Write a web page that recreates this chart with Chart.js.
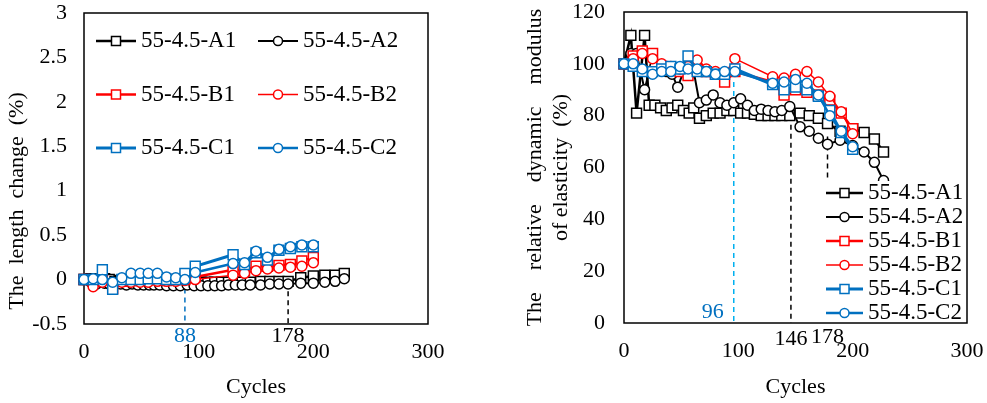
<!DOCTYPE html>
<html>
<head>
<meta charset="utf-8">
<script src="https://cdn.jsdelivr.net/npm/chart.js@4/dist/chart.umd.min.js"></script>
<style>
  html, body { margin: 0; padding: 0; background: #fff; }
  body { width: 987px; height: 403px; position: relative; overflow: hidden; }
  .panel { position: absolute; top: 0; }
</style>
</head>
<body>
<div class="panel" style="left:0"><canvas id="lengthChart" width="470" height="403"></canvas></div>
<div class="panel" style="left:510px"><canvas id="modulusChart" width="477" height="403"></canvas></div>
<script>
// ---- series names ----
const seriesNames = ['55-4.5-A1', '55-4.5-A2', '55-4.5-B1', '55-4.5-B2', '55-4.5-C1', '55-4.5-C2'];

// ---- freeze-thaw cycles at which each group was measured ----
const cyclesA = [0, 6, 11, 18, 22, 27, 32, 37, 42, 47, 52, 57, 61, 66, 72, 78, 84, 90, 96, 102,
                 108, 114, 120, 126, 132, 138, 145, 154, 162, 170, 178, 189, 200, 210, 219, 227];
const cyclesBC = [0, 8, 16, 25, 33, 41, 49, 56, 64, 72, 80, 88, 97, 130, 140, 150, 160, 170, 180, 190, 200];

// ---- length change (%) ----
const lengthA1 = [0, 0.01, 0, 0.01, 0, -0.02, -0.01, -0.01, -0.02, -0.01, -0.01, -0.01, -0.01, -0.02, -0.02, -0.02, -0.02, -0.02,
                  -0.03, -0.03, -0.03, -0.03, -0.03, -0.03, -0.03, -0.03, -0.03, -0.02, -0.02, -0.02, -0.02, 0.02, 0.04, 0.05, 0.05, 0.07];
const lengthA2 = [0, -0.03, -0.05, -0.04, -0.05, -0.05, -0.05, -0.06, -0.05, -0.06, -0.06, -0.06, -0.06, -0.06, -0.07, -0.07, -0.07, -0.06,
                  -0.07, -0.07, -0.07, -0.07, -0.07, -0.06, -0.06, -0.06, -0.06, -0.06, -0.05, -0.05, -0.05, -0.04, -0.04, -0.03, -0.02, 0.01];
const lengthB1 = [0, -0.02, 0, -0.1, -0.02, -0.01, -0.01, 0, 0, -0.01, 0, 0, 0.03, 0.11, 0.1, 0.15, 0.15, 0.16, 0.17, 0.21, 0.25];
const lengthB2 = [0, -0.08, -0.03, -0.05, -0.03, -0.03, -0.03, -0.03, -0.02, -0.02, -0.02, -0.01, 0, 0.05, 0.07, 0.1, 0.12, 0.13, 0.14, 0.15, 0.19];
const lengthC1 = [0, 0, 0.11, -0.11, 0, 0, 0, 0.01, 0.01, 0, 0, 0.07, 0.15, 0.28, 0.17, 0.3, 0.22, 0.33, 0.35, 0.37, 0.37];
const lengthC2 = [0, 0.01, 0, -0.03, 0.02, 0.07, 0.07, 0.07, 0.07, 0.03, 0.02, 0, 0.08, 0.18, 0.19, 0.32, 0.25, 0.34, 0.37, 0.39, 0.39];

// ---- relative dynamic modulus of elasticity (%) ----
const modulusA1 = [100, 111, 81, 111, 84, 84, 83, 82, 83, 84, 82, 81, 83, 79, 80, 81, 81, 82, 82, 81,
                   81, 80.5, 80, 80, 80, 80, 80, 81, 80, 79, 77, 74, 75, 73.5, 71, 66];
const modulusA2 = [100, 104, 104, 90, 97, 99, 98, 97, 96, 91, 97, 96, 97, 85, 86, 88, 85, 84, 85, 86.5,
                   84, 82, 82.5, 82, 81.5, 82, 83.5, 75.7, 74, 71.3, 69, 70.5, 68.5, 66, 62, 55];
const modulusB1 = [100, 103, 105, 104, 99, 98, 97, 95.5, 98, 97, 96, 93, 97, 93, 88, 90, 89, 88, 86, 81, 75];
const modulusB2 = [100, 102, 104, 102, 100, 99, 98, 99, 101.5, 98, 97, 96, 102, 95, 94.5, 96, 97, 93, 87.5, 81.5, 73];
const modulusC1 = [100, 99, 97, 97, 98, 99, 98, 103, 97, 97, 96, 96, 98, 92, 90, 91, 90, 87.5, 82, 73.5, 67];
const modulusC2 = [100, 100, 98, 96, 97, 97, 99, 98, 98, 97, 96, 97, 97, 92.5, 93, 94, 92.5, 88, 80, 74, 68];

// ---- marked cycles (dashed drop lines) ----
const lengthMarkCycles = [88, 178];
const lengthMarkTops = [0, -0.03];
const modulusMarkCycles = [96, 146, 178];
const modulusMarkTops = [93, 80, 72];

// ---- axis ticks ----
const cycleTicks = [0, 100, 200, 300];
const cycleTickLabels = ['0', '100', '200', '300'];
const lengthTicks = [-0.5, 0, 0.5, 1, 1.5, 2, 2.5, 3];
const lengthTickLabels = ['-0.5', '0', '0.5', '1', '1.5', '2', '2.5', '3'];
const modulusTicks = [0, 20, 40, 60, 80, 100, 120];
const modulusTickLabels = ['0', '20', '40', '60', '80', '100', '120'];

// ---- styling ----
const BLACK = '#000000', RED = '#FF0000', BLUE = '#0070C0', SKY = '#00B0F0';
const FONT_FAMILY = '"Liberation Serif", "Times New Roman", serif';
const FONT_SIZE = 22;
const LEGEND_FONT_SIZE = 23;
const seriesStyles = [
  { color: BLACK, point: 'rect',   width: 2.5, radius: 7 },
  { color: BLACK, point: 'circle', width: 2,   radius: 5 },
  { color: RED,   point: 'rect',   width: 2.5, radius: 7 },
  { color: RED,   point: 'circle', width: 1.5, radius: 5 },
  { color: BLUE,  point: 'rect',   width: 3,   radius: 7 },
  { color: BLUE,  point: 'circle', width: 2.5, radius: 5 }
];
// drawing order: blue on top, black underneath
const seriesOrder = [5, 4, 3, 2, 1, 0];

Chart.defaults.font.family = FONT_FAMILY;
Chart.defaults.font.size = FONT_SIZE;
Chart.defaults.color = '#000';

function pairs(xs, ys) { return xs.map((x, i) => ({ x: x, y: ys[i] })); }

function seriesDatasets(xsList, ysList) {
  return seriesNames.map((name, i) => {
    const s = seriesStyles[i];
    return {
      label: name,
      data: pairs(xsList[i], ysList[i]),
      borderColor: s.color,
      borderWidth: s.width,
      pointStyle: s.point,
      pointRadius: s.radius,
      pointHoverRadius: s.radius,
      pointBorderWidth: 1.5,
      pointBorderColor: s.color,
      pointBackgroundColor: '#ffffff',
      tension: 0,
      clip: false,
      order: seriesOrder[i],
      isSeries: true
    };
  });
}

function markDatasets(cycles, tops, bottom, colors) {
  return cycles.map((c, i) => ({
    label: 'mark' + c,
    data: [{ x: c, y: tops[i] }, { x: c, y: bottom }],
    borderColor: colors[i],
    borderWidth: 1.5,
    borderDash: [5, 4],
    pointRadius: 0,
    pointHoverRadius: 0,
    clip: false,
    order: 20,
    isSeries: false
  }));
}

function fixTicks(values) {
  return function (scale) { scale.ticks = values.map(v => ({ value: v })); };
}

// keep the plot area exactly where the layout padding puts it
function clearScalePadding(scale) {
  scale.paddingTop = 0; scale.paddingBottom = 0;
  scale.paddingLeft = 0; scale.paddingRight = 0;
}

// box round the plot area, drawn before the data
const framePlugin = {
  id: 'frame',
  beforeDatasetsDraw(chart) {
    const a = chart.chartArea, ctx = chart.ctx;
    ctx.save();
    ctx.strokeStyle = '#000';
    ctx.lineWidth = 1.5;
    ctx.strokeRect(a.left, a.top, a.right - a.left, a.bottom - a.top);
    ctx.restore();
  }
};

// legend entry: short line with its marker and the series name
function drawLegendEntry(ctx, ds, x1, x2, y, textX) {
  ctx.save();
  ctx.strokeStyle = ds.borderColor;
  ctx.lineWidth = ds.borderWidth;
  ctx.beginPath(); ctx.moveTo(x1, y); ctx.lineTo(x2, y); ctx.stroke();
  const mx = (x1 + x2) / 2;
  ctx.fillStyle = '#fff';
  ctx.lineWidth = 1.5;
  if (ds.pointStyle === 'rect') {
    ctx.fillRect(mx - 4.5, y - 4.5, 9, 9);
    ctx.strokeRect(mx - 4.5, y - 4.5, 9, 9);
  } else {
    ctx.beginPath(); ctx.arc(mx, y, 4.5, 0, Math.PI * 2); ctx.fill(); ctx.stroke();
  }
  ctx.fillStyle = '#000';
  ctx.font = LEGEND_FONT_SIZE + 'px ' + FONT_FAMILY;
  ctx.textAlign = 'left';
  ctx.textBaseline = 'middle';
  ctx.fillText(ds.label, textX, y);
  ctx.restore();
}

// legend, vertical axis caption and the cycle numbers of the dashed lines
const overlayPlugin = {
  id: 'overlay',
  afterDraw(chart, args, opts) {
    const ctx = chart.ctx, a = chart.chartArea;
    const series = chart.data.datasets.filter(d => d.isSeries);
    if (opts.legend === 'grid') {
      series.forEach((ds, i) => {
        const col = i % 2, row = Math.floor(i / 2);
        const x0 = a.left + (col === 0 ? 12 : 174);
        const y = a.top + 28 + row * 53.5;
        drawLegendEntry(ctx, ds, x0, x0 + 40, y, x0 + 45);
      });
    } else if (opts.legend === 'column') {
      ctx.save();
      ctx.fillStyle = '#fff';
      ctx.fillRect(a.left + 198, a.bottom - 142, 143, 141);
      ctx.restore();
      series.forEach((ds, i) => {
        const y = a.bottom - 130 + i * 24;
        drawLegendEntry(ctx, ds, a.left + 202, a.left + 239, y, a.left + 244);
      });
    }
    ctx.save();
    ctx.font = FONT_SIZE + 'px ' + FONT_FAMILY;
    ctx.textBaseline = 'middle';
    if (opts.yCaption) {
      const c = opts.yCaption;
      ctx.save();
      ctx.translate(c.x, c.y);
      ctx.rotate(-Math.PI / 2);
      ctx.fillStyle = '#000';
      ctx.textAlign = 'center';
      ctx.fillText(c.text, 0, 0);
      ctx.restore();
    }
    const xs = chart.scales.x, ys = chart.scales.y;
    (opts.marks || []).forEach(m => {
      const px = xs.getPixelForValue(m.cycle);
      ctx.fillStyle = m.color;
      if (m.inside) {
        ctx.textAlign = 'right';
        ctx.fillText(String(m.cycle), px - 10, ys.getPixelForValue(m.y));
      } else {
        ctx.textAlign = 'center';
        ctx.fillText(String(m.cycle), px, a.bottom + m.dy);
      }
    });
    ctx.restore();
  }
};

function cycleAxis(height) {
  return {
    type: 'linear',
    min: 0, max: 300,
    afterBuildTicks: fixTicks(cycleTicks),
    afterFit(scale) { scale.height = height; clearScalePadding(scale); },
    grid: { display: false, drawTicks: false },
    border: { display: false },
    ticks: { padding: 15, maxRotation: 0, autoSkip: false, callback: (v, i) => cycleTickLabels[i] },
    title: { display: true, text: 'Cycles', padding: { top: 0, bottom: 3 } }
  };
}

// ---- length change chart ----
new Chart(document.getElementById('lengthChart'), {
  type: 'line',
  data: {
    datasets: markDatasets(lengthMarkCycles, lengthMarkTops, -0.5, [BLUE, BLACK]).concat(
      seriesDatasets([cyclesA, cyclesA, cyclesBC, cyclesBC, cyclesBC, cyclesBC],
                     [lengthA1, lengthA2, lengthB1, lengthB2, lengthC1, lengthC2]))
  },
  options: {
    responsive: false,
    animation: false,
    events: [],
    layout: { padding: { top: 13, right: 42, bottom: 0, left: 0 } },
    plugins: {
      legend: { display: false },
      tooltip: { enabled: false },
      overlay: {
        legend: 'grid',
        yCaption: { text: 'The  length  change  (%)', x: 17, y: 201 },
        marks: [
          { cycle: lengthMarkCycles[0], color: BLUE, dy: 12 },
          { cycle: lengthMarkCycles[1], color: BLACK, dy: 12 }
        ]
      }
    },
    scales: {
      x: cycleAxis(79),
      y: {
        type: 'linear',
        min: -0.5, max: 3,
        afterBuildTicks: fixTicks(lengthTicks),
        afterFit(scale) { scale.width = 84; clearScalePadding(scale); },
        grid: { display: false, drawTicks: false },
        border: { display: false },
        ticks: { padding: 17, callback: (v, i) => lengthTickLabels[i] },
        title: { display: false }
      }
    }
  },
  plugins: [framePlugin, overlayPlugin]
});

// ---- relative dynamic modulus chart ----
new Chart(document.getElementById('modulusChart'), {
  type: 'line',
  data: {
    datasets: markDatasets(modulusMarkCycles, modulusMarkTops, 0, [SKY, BLACK, BLACK]).concat(
      seriesDatasets([cyclesA, cyclesA, cyclesBC, cyclesBC, cyclesBC, cyclesBC],
                     [modulusA1, modulusA2, modulusB1, modulusB2, modulusC1, modulusC2]))
  },
  options: {
    responsive: false,
    animation: false,
    events: [],
    layout: { padding: { top: 12, right: 20, bottom: 0, left: 0 } },
    plugins: {
      legend: { display: false },
      tooltip: { enabled: false },
      overlay: {
        legend: 'column',
        marks: [
          { cycle: modulusMarkCycles[0], color: BLUE, inside: true, y: 4 },
          { cycle: modulusMarkCycles[1], color: BLACK, dy: 16 },
          { cycle: modulusMarkCycles[2], color: BLACK, dy: 14 }
        ]
      }
    },
    scales: {
      x: cycleAxis(80),
      y: {
        type: 'linear',
        min: 0, max: 120,
        afterBuildTicks: fixTicks(modulusTicks),
        afterFit(scale) { scale.width = 114; clearScalePadding(scale); },
        grid: { display: false, drawTicks: false },
        border: { display: false },
        ticks: { padding: 19, callback: (v, i) => modulusTickLabels[i] },
        title: {
          display: true,
          text: ['The    relative    dynamic    modulus', 'of elasticity  (%)'],
          padding: { top: 12, bottom: 0 }
        }
      }
    }
  },
  plugins: [framePlugin, overlayPlugin]
});
</script>
</body>
</html>
